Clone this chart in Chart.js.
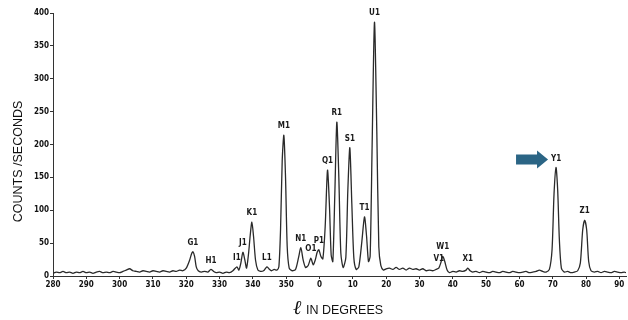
<!DOCTYPE html>
<html>
<head>
<meta charset="utf-8">
<script src="https://cdn.jsdelivr.net/npm/chart.js@4.4.1/dist/chart.umd.min.js"></script>
<style>
html,body{margin:0;padding:0;background:#fff;}
#wrap{width:628px;height:320px;position:relative;}
</style>
</head>
<body>
<div id="wrap"><canvas id="c" width="628" height="320"></canvas></div>
<script>
// Galactic longitude samples (degrees) — wraps from 359 to 0
const lon = [
  280,281,282,283,284,285,286,287,288,289,
  290,291,292,293,294,295,296,297,298,299,
  300,301,302,303,304,305,306,307,308,309,
  310,311,312,313,314,315,316,317,318,319,
  320,321,321.6,322,322.5,323,323.6,324.5,325.5,326.5,
  327.4,328.2,329,330,331,332,333,334,335.2,335.8,
  336.4,337,337.6,338.1,338.7,339.2,339.7,340.2,340.8,341.5,
  342.3,343.2,344.2,344.8,345.6,346.4,347.2,347.8,348.3,348.8,
  349.3,349.8,350.3,350.9,351.8,352.8,353.7,354.4,355.1,355.8,
  356.6,357.4,358.1,358.7,359.3,359.8,0.4,1.0,1.7,2.4,
  3.0,3.5,4.0,4.6,5.2,5.8,6.4,7.1,7.9,8.5,
  9.1,9.7,10.3,11.0,11.8,12.7,13.5,14.1,14.7,15.2,
  15.8,16.5,17.2,17.8,18.4,19.2,20,21,22,23,
  24,25,26,27,28,29,30,31,32,33,
  34,35,35.8,36.4,37,37.6,38.3,39,40,41,
  42,43,44,44.5,45.2,46,47,48,49,50,
  51,52,53,54,55,56,57,58,59,60,
  61,62,63,64,65,66,67,68,69,69.8,
  70.4,71,71.5,72,72.6,73.5,74.5,75.5,76.5,77.5,
  78.3,79,79.6,80.2,80.8,81.5,82.5,83.5,84.5,85.5,
  86.5,87.5,88.5,89.5,90.5,91.5,92
];
// Counts per second at each longitude sample
const counts = [
  4,6,5,7,5,6,4,6,5,7,
  5,6,4,6,7,5,6,5,7,6,
  5,7,9,11,8,7,6,8,7,6,
  8,7,6,8,7,6,8,7,9,8,
  12,24,34,37,30,14,8,6,7,6,
  10,7,5,6,4,6,5,8,14,9,
  20,36,24,12,34,62,82,60,24,9,
  7,8,14,11,8,10,9,14,70,175,
  214,150,45,12,8,10,28,43,24,13,
  16,27,17,24,36,40,30,26,75,161,
  105,32,22,125,234,150,35,13,28,130,
  195,110,28,10,14,52,90,62,22,30,
  200,386,220,45,16,9,11,12,10,13,
  10,12,9,12,10,11,9,11,8,9,
  8,10,12,20,30,22,9,5,7,6,
  8,7,9,12,8,6,7,5,7,6,
  5,7,6,5,7,6,5,7,6,5,
  6,7,5,6,7,9,7,6,10,40,
  125,165,130,55,12,6,7,5,6,8,
  20,70,85,70,22,8,6,7,5,7,
  6,5,7,6,5,6,5
];
// Peak labels
const peakNames = ["G1","H1","I1","J1","K1","L1","M1","N1","O1","P1","Q1","R1","S1","T1","U1","V1","W1","X1","Y1","Z1"];
const peakLon   = [322,327.4,335.2,337,339.7,344.2,349.3,354.4,357.4,359.8,2.4,5.2,9.1,13.5,16.5,35.8,37,44.5,71,79.6];
const peakTop   = [37,10,14,36,82,14,214,43,27,40,161,234,195,90,386,12,30,12,165,85];
const arrowPeak = "Y1";
// Axis
const xMin = 280, xMax = 452, xStep = 10;
const yMin = 0, yMax = 400, yStep = 50;
const yTitle = "COUNTS /SECONDS";
const xTitleSymbol = "ℓ";
const xTitleText = "IN DEGREES";

const unwrap = l => (l < 200 ? l + 360 : l);
const points = lon.map((l, i) => ({x: unwrap(l), y: counts[i]}));

const tickFont = {family: "'Liberation Sans Narrow','DejaVu Sans Condensed',sans-serif", size: 8, weight: 'bold'};

const decor = {
  id: 'decor',
  afterDatasetsDraw(chart) {
    const ctx = chart.ctx, xs = chart.scales.x, ys = chart.scales.y;
    ctx.save();
    ctx.fillStyle = '#1a1a1a';
    ctx.font = "bold 8px 'Liberation Sans Narrow','DejaVu Sans Condensed',sans-serif";
    ctx.textAlign = 'center';
    ctx.textBaseline = 'middle';
    peakNames.forEach((n, i) => {
      const px = xs.getPixelForValue(unwrap(peakLon[i]));
      const py = ys.getPixelForValue(peakTop[i]);
      ctx.fillText(n, px, py - 9);
      if (n === arrowPeak) {
        const tipX = px - 8, cy = py - 8;
        ctx.fillStyle = '#2b6585';
        ctx.beginPath();
        ctx.moveTo(tipX - 32, cy - 5);
        ctx.lineTo(tipX - 11, cy - 5);
        ctx.lineTo(tipX - 11, cy - 9);
        ctx.lineTo(tipX, cy);
        ctx.lineTo(tipX - 11, cy + 9);
        ctx.lineTo(tipX - 11, cy + 5);
        ctx.lineTo(tipX - 32, cy + 5);
        ctx.closePath();
        ctx.fill();
        ctx.fillStyle = '#1a1a1a';
      }
    });
    // Axis titles
    ctx.fillStyle = '#111';
    ctx.save();
    ctx.translate(19, (chart.chartArea.top + chart.chartArea.bottom) / 2 + 17);
    ctx.rotate(-Math.PI / 2);
    ctx.font = "12.5px 'Liberation Sans',Arial,sans-serif";
    ctx.textAlign = 'center';
    ctx.fillText(yTitle, 0, 0);
    ctx.restore();
    ctx.textAlign = 'left';
    ctx.textBaseline = 'alphabetic';
    ctx.font = "italic 20px 'DejaVu Serif',serif";
    ctx.fillText(xTitleSymbol, 293, 314);
    ctx.font = "12.5px 'Liberation Sans',Arial,sans-serif";
    ctx.fillText(xTitleText, 306, 314);
    ctx.restore();
  }
};

new Chart(document.getElementById('c'), {
  type: 'line',
  data: {
    datasets: [{
      data: points,
      borderColor: '#2a2a2a',
      borderWidth: 1.3,
      pointRadius: 0,
      tension: 0.25,
      fill: false
    }]
  },
  options: {
    responsive: false,
    animation: false,
    devicePixelRatio: 1,
    layout: {padding: {top: 13, right: 2, left: 0, bottom: 0}},
    plugins: {legend: {display: false}, tooltip: {enabled: false}},
    scales: {
      x: {
        type: 'linear', min: xMin, max: xMax,
        afterFit(s) { s.height = 44; },
        border: {color: '#333', width: 1},
        grid: {drawOnChartArea: false, color: '#333', tickLength: 3},
        ticks: {
          stepSize: xStep, includeBounds: false, autoSkip: false,
          maxRotation: 0, padding: 1, color: '#111', font: tickFont,
          callback: v => (v >= 360 ? v - 360 : v)
        }
      },
      y: {
        min: yMin, max: yMax,
        afterFit(s) { s.width = 53; },
        border: {color: '#333', width: 1},
        grid: {drawOnChartArea: false, color: '#333', tickLength: 3},
        ticks: {stepSize: yStep, padding: 1, color: '#111', font: tickFont}
      }
    }
  },
  plugins: [decor]
});
</script>
</body>
</html>
